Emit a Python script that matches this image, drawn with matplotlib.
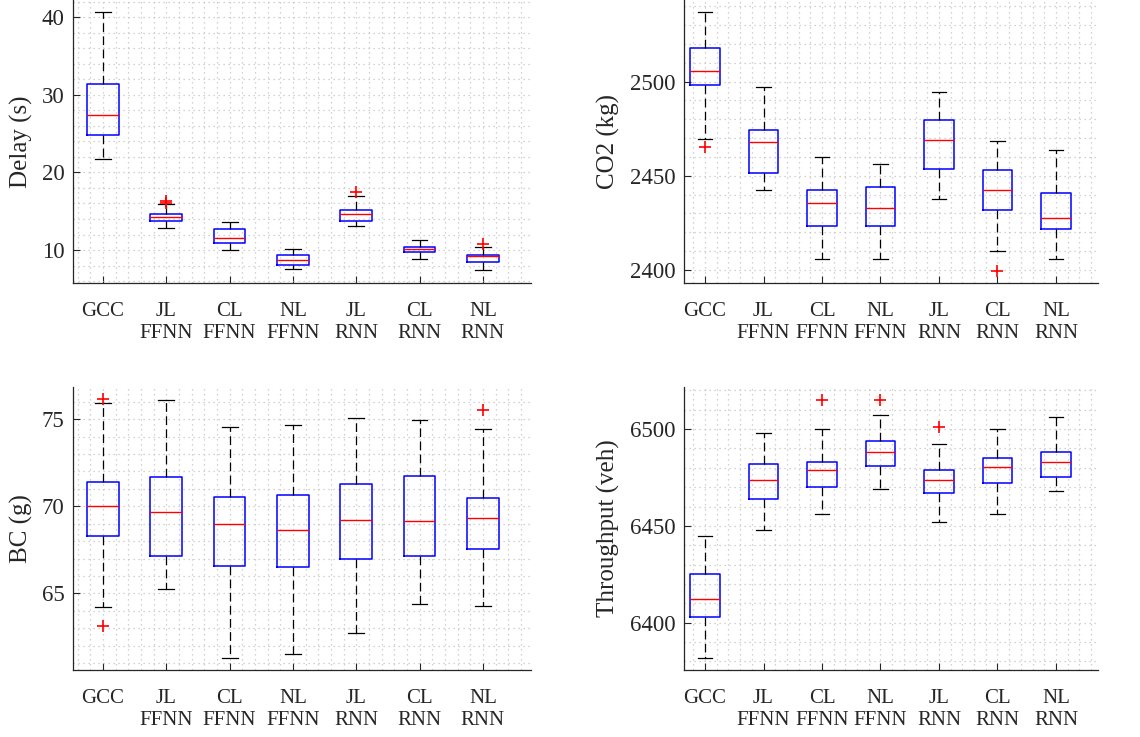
import matplotlib.pyplot as plt
from matplotlib.ticker import MultipleLocator

plt.rcParams['font.family'] = ['Liberation Serif', 'DejaVu Serif']

labels = ['GCC', 'JL\nFFNN', 'CL\nFFNN', 'NL\nFFNN', 'JL\nRNN', 'CL\nRNN', 'NL\nRNN']

# Delay (s)
delay_lo = [21.7, 12.9, 10.0, 7.6, 13.1, 8.9, 7.4]
delay_q1 = [24.8, 13.8, 10.9, 8.1, 13.8, 9.7, 8.5]
delay_med = [27.4, 14.2, 11.5, 8.7, 14.6, 10.1, 9.2]
delay_q3 = [31.4, 14.7, 12.7, 9.4, 15.2, 10.4, 9.4]
delay_hi = [40.6, 15.9, 13.6, 10.2, 16.9, 11.3, 10.4]
delay_fl = [[], [16.1, 16.3], [], [], [17.5], [], [10.8]]

# CO2 (kg)
co2_lo = [2469.5, 2442.6, 2406.0, 2406.0, 2437.9, 2410.1, 2406.0]
co2_q1 = [2498.0, 2451.2, 2423.2, 2423.2, 2453.4, 2431.9, 2421.8]
co2_med = [2505.9, 2468.1, 2435.6, 2432.8, 2469.1, 2442.2, 2427.8]
co2_q3 = [2517.7, 2474.5, 2442.2, 2444.1, 2479.6, 2453.0, 2441.0]
co2_hi = [2536.9, 2497.3, 2459.8, 2456.2, 2494.3, 2468.4, 2463.7]
co2_fl = [[2465.4], [], [], [], [], [2399.6], []]

# BC (g)
bc_lo = [64.2, 65.25, 61.3, 61.5, 62.7, 64.4, 64.3]
bc_q1 = [68.3, 67.15, 66.57, 66.49, 66.95, 67.15, 67.55]
bc_med = [70.0, 69.66, 68.98, 68.66, 69.23, 69.16, 69.33]
bc_q3 = [71.42, 71.69, 70.56, 70.67, 71.28, 71.72, 70.5]
bc_hi = [75.94, 76.13, 74.58, 74.69, 75.06, 74.98, 74.41]
bc_fl = [[76.17, 63.14], [], [], [], [], [], [75.54]]

# Throughput (veh)
thr_lo = [6381.9, 6447.9, 6455.9, 6469.1, 6451.9, 6455.9, 6468.1]
thr_q1 = [6402.9, 6464.1, 6470.0, 6481.0, 6467.1, 6472.1, 6475.0]
thr_med = [6412.4, 6473.6, 6478.6, 6488.1, 6473.6, 6480.2, 6483.1]
thr_q3 = [6425.0, 6482.1, 6483.1, 6494.0, 6479.0, 6485.0, 6488.1]
thr_hi = [6445.0, 6498.1, 6500.0, 6507.2, 6492.1, 6500.0, 6506.0]
thr_fl = [[], [], [6515.0], [6515.0], [6500.9], [], []]


def draw(ax, lo, q1, med, q3, hi, fl, ylabel, ylim, xlim, major, minor, label_x):
    stats = []
    for i in range(len(labels)):
        stats.append(dict(label=labels[i], whislo=lo[i], q1=q1[i], med=med[i],
                          q3=q3[i], whishi=hi[i], fliers=fl[i]))
    ax.bxp(stats, positions=range(1, len(labels) + 1), widths=0.5, capwidths=0.25,
           boxprops=dict(color='#0000ff', linewidth=1.1),
           medianprops=dict(color='#ff0000', linewidth=1.0),
           whiskerprops=dict(color='black', linewidth=0.9, linestyle=(0, (7, 3.5))),
           capprops=dict(color='black', linewidth=0.9),
           flierprops=dict(marker='+', markeredgecolor='#ff0000', markersize=9,
                           markeredgewidth=1.2, linestyle='none'))
    ax.set_xlim(*xlim)
    ax.set_ylim(*ylim)
    ax.yaxis.set_major_locator(MultipleLocator(major))
    ax.yaxis.set_minor_locator(MultipleLocator(minor))
    ax.xaxis.set_minor_locator(MultipleLocator(0.2))
    ax.grid(which='both', linestyle=(0, (1, 3)), color='#c4c4c4', linewidth=0.9)
    ax.set_axisbelow(True)
    ax.spines['top'].set_visible(False)
    ax.spines['right'].set_visible(False)
    for s in ['left', 'bottom']:
        ax.spines[s].set_color('#262626')
        ax.spines[s].set_linewidth(0.9)
    ax.tick_params(which='major', direction='in', length=5, colors='#262626')
    ax.tick_params(axis='x', which='major', labelsize=15, pad=14)
    ax.tick_params(axis='y', which='major', labelsize=16.5, pad=6)
    ax.tick_params(which='minor', length=0)
    for t in ax.get_xticklabels():
        t.set_linespacing(1.2)
    ax.set_ylabel(ylabel, fontsize=18, color='#262626')
    ax.yaxis.set_label_coords(label_x, 0.5)


fig = plt.figure(figsize=(11.4, 7.37), dpi=100)
ax1 = fig.add_axes([0.0640, 0.616, 0.4018, 0.384])
ax2 = fig.add_axes([0.600, 0.616, 0.3632, 0.384])
ax3 = fig.add_axes([0.0640, 0.0909, 0.4018, 0.384])
ax4 = fig.add_axes([0.600, 0.0909, 0.3632, 0.384])

draw(ax1, delay_lo, delay_q1, delay_med, delay_q3, delay_hi, delay_fl,
     'Delay (s)', (5.76, 42.2), (0.526, 7.76), 10, 2, -0.087)
draw(ax2, co2_lo, co2_q1, co2_med, co2_q3, co2_hi, co2_fl,
     'CO2 (kg)', (2393, 2543.4), (0.64, 7.72), 50, 10, -0.155)
draw(ax3, bc_lo, bc_q1, bc_med, bc_q3, bc_hi, bc_fl,
     'BC (g)', (60.6, 76.85), (0.526, 7.76), 5, 1, -0.087)
draw(ax4, thr_lo, thr_q1, thr_med, thr_q3, thr_hi, thr_fl,
     'Throughput (veh)', (6375.6, 6521.7), (0.64, 7.72), 50, 10, -0.155)

fig.savefig('out.png', dpi=100)
